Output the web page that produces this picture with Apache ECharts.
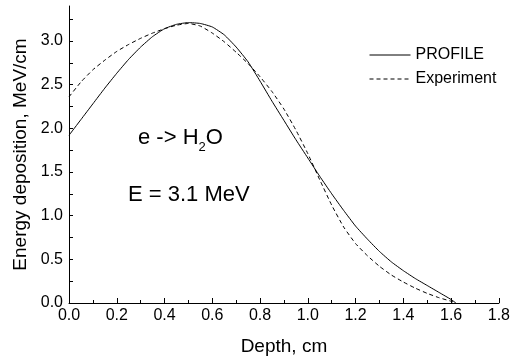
<!DOCTYPE html>
<html>
<head>
<meta charset="utf-8">
<script src="https://cdn.jsdelivr.net/npm/echarts@6/dist/echarts.min.js"></script>
<style>
html,body{margin:0;padding:0;background:#fff;}
#c{width:513px;height:362px;}
</style>
</head>
<body>
<div id="c"></div>
<script>
// Depth (cm)
var depth = [0.00,0.05,0.10,0.15,0.20,0.25,0.30,0.35,0.40,0.45,0.50,0.55,0.60,0.65,0.70,0.75,0.80,0.85,0.90,0.95,1.00,1.05,1.10,1.15,1.20,1.25,1.30,1.35,1.40,1.45,1.50,1.55,1.60,1.62];
// PROFILE calculation (MeV/cm)
var profile = [1.92,2.10,2.28,2.46,2.63,2.79,2.93,3.05,3.14,3.19,3.21,3.20,3.16,3.07,2.93,2.76,2.54,2.31,2.09,1.87,1.66,1.45,1.25,1.06,0.88,0.73,0.59,0.47,0.37,0.28,0.20,0.12,0.04,0.00];
// Experiment (MeV/cm)
var experiment = [2.36,2.53,2.67,2.78,2.88,2.96,3.03,3.09,3.14,3.18,3.20,3.17,3.09,2.99,2.87,2.74,2.59,2.42,2.22,1.98,1.71,1.41,1.12,0.87,0.68,0.54,0.42,0.32,0.24,0.17,0.11,0.06,0.02,0.00];
var yTicks = [0,0.25,0.5,0.75,1.0,1.25,1.5,1.75,2.0,2.25,2.5,2.75,3.0,3.25];
var yLabels = [0,0.5,1.0,1.5,2.0,2.5,3.0];

function pairs(xs, ys){ return xs.map(function(x,i){ return [x, ys[i]]; }); }

var FONT = '"Liberation Sans", Arial, sans-serif';
var chart = echarts.init(document.getElementById('c'), null, {renderer:'canvas'});
chart.setOption({
  animation:false,
  backgroundColor:'#fff',
  textStyle:{fontFamily:FONT, color:'#000'},
  grid:{left:69, right:14, top:6, bottom:59},
  xAxis:{
    type:'value', min:0, max:1.8, interval:0.2,
    name:'Depth, cm', nameLocation:'middle', nameGap:34,
    nameTextStyle:{fontSize:19, color:'#000', fontFamily:FONT},
    axisLine:{show:true, onZero:false, lineStyle:{color:'#000', width:1}},
    axisTick:{show:true, inside:true, length:5, lineStyle:{color:'#000'}},
    minorTick:{show:true, splitNumber:2, length:3, lineStyle:{color:'#000'}},
    splitLine:{show:false},
    axisLabel:{fontSize:16, color:'#000', margin:5, fontFamily:FONT,
      formatter:function(v){return v.toFixed(1);}}
  },
  yAxis:{
    type:'value', min:0, max:3.4, interval:0.5,
    name:'Energy deposition, MeV/cm', nameLocation:'middle', nameGap:39,
    nameTextStyle:{fontSize:19, color:'#000', fontFamily:FONT},
    axisLine:{show:true, onZero:false, lineStyle:{color:'#000', width:1}},
    axisTick:{show:true, inside:true, length:4, customValues:yTicks, lineStyle:{color:'#000'}},
    splitLine:{show:false},
    axisLabel:{fontSize:16, color:'#000', margin:6, fontFamily:FONT, customValues:yLabels,
      formatter:function(v){return v.toFixed(1);}}
  },
  legend:{
    orient:'vertical', left:364, top:42, itemWidth:41, itemHeight:14, itemGap:8,
    textStyle:{fontSize:16, color:'#000', fontFamily:FONT},
    itemStyle:{opacity:0, borderWidth:0},
    lineStyle:{width:1},
    data:['PROFILE','Experiment']
  },
  graphic:[
    {type:'text', left:138, top:127, style:{
      text:'{n|e -> H}{s|2}{n|O}',
      rich:{
        n:{fontSize:22, fontFamily:FONT, fill:'#000', verticalAlign:'top', lineHeight:27},
        s:{fontSize:13, fontFamily:FONT, fill:'#000', verticalAlign:'bottom', lineHeight:27}
      }
    }},
    {type:'text', left:128, top:184, style:{
      text:'E = 3.1 MeV', fontSize:22, fontFamily:FONT, fill:'#000'
    }}
  ],
  series:[
    {name:'PROFILE', type:'line', data:pairs(depth, profile), smooth:0.15, symbol:'none',
      lineStyle:{color:'#000', width:1, type:'solid'}, itemStyle:{color:'#000'}},
    {name:'Experiment', type:'line', data:pairs(depth, experiment), smooth:0.15, symbol:'none',
      lineStyle:{color:'#000', width:1, type:[4,3]}, itemStyle:{color:'#000'}}
  ]
});
</script>
</body>
</html>
